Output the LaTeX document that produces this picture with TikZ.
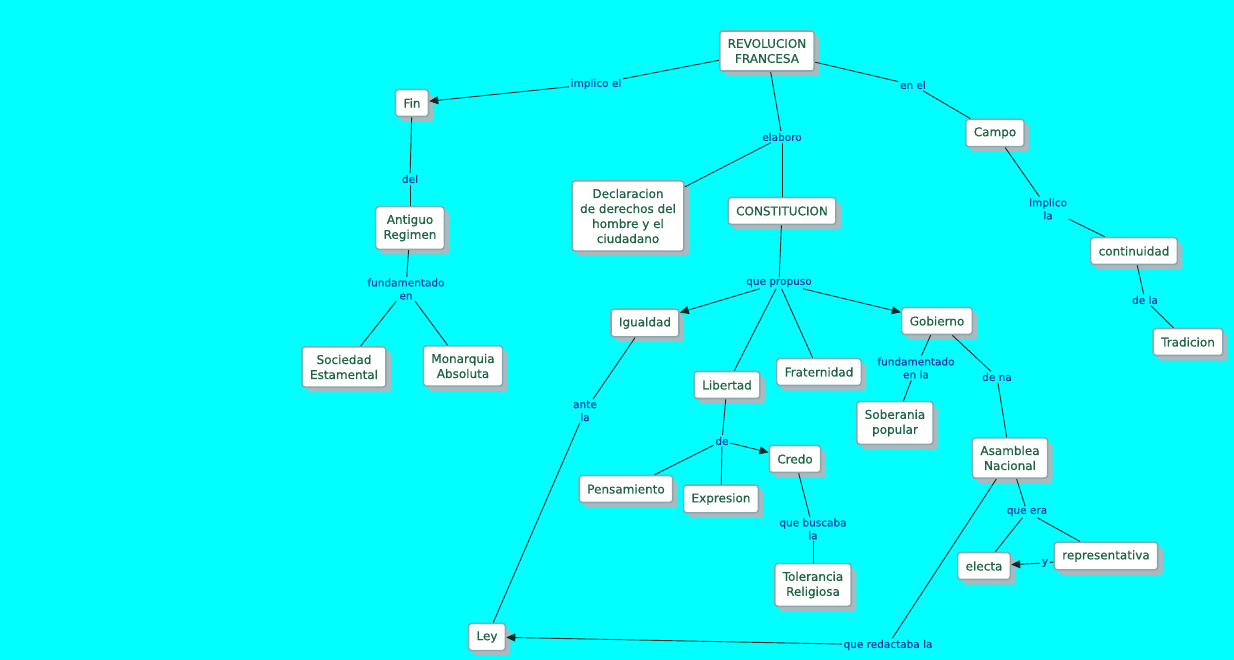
\documentclass[tikz,border=0pt]{standalone}
\usepackage{fontspec}
\setmainfont{DejaVu Sans}
\newfontfamily\conceptfont{DejaVu Sans}[BoldFont={DejaVu Sans}, BoldFeatures={FakeBold=0.6}]
\newfontfamily\linkfont{DejaVu Sans}[BoldFont={DejaVu Sans}, BoldFeatures={FakeBold=0.3}]
\usetikzlibrary{arrows.meta,shadows}
\usepackage{xcolor}
\definecolor{mapbg}{RGB}{0,255,255}
\definecolor{conceptborder}{RGB}{140,168,175}
\definecolor{concepttext}{RGB}{30,100,68}
\definecolor{linktext}{RGB}{15,60,165}
\definecolor{shadowgray}{RGB}{170,185,190}
\definecolor{linecolor}{RGB}{20,40,40}

\begin{document}
\begin{tikzpicture}[x=1pt, y=-1pt,
			concept/.style={rectangle, draw=conceptborder, fill=white, line width=1.6pt,
				rounded corners=3pt, inner xsep=8pt, inner ysep=8pt, minimum height=27pt,
				align=center, text=concepttext, font=\conceptfont\bfseries\fontsize{12}{15}\selectfont,
				drop shadow={shadow xshift=5pt, shadow yshift=-5pt, fill=shadowgray, opacity=1}},
			link/.style={inner sep=1.5pt, align=center, text=linktext, font=\linkfont\bfseries\fontsize{10.5}{13}\selectfont},
			conn/.style={draw=linecolor, line width=0.9pt},
			>={Triangle[length=9pt, width=8pt]}
			]
			\fill[mapbg] (0,0) rectangle (1234,660);
			\useasboundingbox (0,0) rectangle (1234,660);
			
			\node[concept] (Rev) at (767,51) {REVOLUCION\\FRANCESA};
			\node[concept] (Fin) at (412,103) {Fin};
			\node[concept] (Campo) at (995,133) {Campo};
			\node[concept] (Antiguo) at (410,228) {Antiguo\\Regimen};
			\node[concept] (Decl) at (628,216) {Declaracion\\de derechos del\\hombre y el\\ciudadano};
			\node[concept] (Const) at (782,211) {CONSTITUCION};
			\node[concept] (Cont) at (1134,251) {continuidad};
			\node[concept] (Trad) at (1188,342) {Tradicion};
			\node[concept] (Igual) at (645,323) {Igualdad};
			\node[concept] (Gob) at (937,321) {Gobierno};
			\node[concept] (Soc) at (344,367) {Sociedad\\Estamental};
			\node[concept] (Mon) at (463,366) {Monarquia\\Absoluta};
			\node[concept] (Frat) at (819,372) {Fraternidad};
			\node[concept] (Lib) at (727,385) {Libertad};
			\node[concept] (Sob) at (895,423) {Soberania\\popular};
			\node[concept] (Asam) at (1010,458) {Asamblea\\Nacional};
			\node[concept] (Credo) at (795,459) {Credo};
			\node[concept] (Pens) at (626,489) {Pensamiento};
			\node[concept] (Expr) at (721,499) {Expresion};
			\node[concept] (Repr) at (1106,556) {representativa};
			\node[concept] (Electa) at (984,566) {electa};
			\node[concept] (Tol) at (813,585) {Tolerancia\\Religiosa};
			\node[concept] (Ley) at (487,637) {Ley};
			
			\node[link] (ImplicoEl) at (596,84) {implico el};
			\node[link] (EnEl) at (913,85) {en el};
			\node[link] (Elaboro) at (782,137) {elaboro};
			\node[link] (Del) at (410,179) {del};
			\node[link] (ImplicoLa) at (1048,209) {Implico\\la};
			\node[link] (FundEn) at (406,289) {fundamentado\\en};
			\node[link] (QuePropuso) at (779,283) {que propuso};
			\node[link] (DeLa) at (1145,300) {de la};
			\node[link] (FundEnLa) at (916,368) {fundamentado\\en la};
			\node[link] (DeNa) at (997,377) {de na};
			\node[link] (AnteLa) at (585,411) {ante\\la};
			\node[link] (De) at (722,441) {de};
			\node[link] (QueBuscaba) at (813,529) {que buscaba\\la};
			\node[link] (QueEra) at (1027,512) {que era};
			\node[link] (Y) at (1045,563) {y};
			\node[link] (QueRedactaba) at (888,645) {que redactaba la};
			
			\draw[conn] (Rev) -- (ImplicoEl);
			\draw[conn, ->] (ImplicoEl) -- (Fin);
			\draw[conn] (Rev) -- (EnEl);
			\draw[conn] (EnEl) -- (Campo);
			\draw[conn] (Rev) -- (Elaboro);
			\draw[conn] (Elaboro) -- (Decl);
			\draw[conn] (Elaboro) -- (Const);
			
			\draw[conn] (Fin) -- (Del);
			\draw[conn] (Del) -- (Antiguo);
			\draw[conn] (Antiguo) -- (FundEn);
			\draw[conn] (FundEn) -- (Soc);
			\draw[conn] (FundEn) -- (Mon);
			
			\draw[conn] (Campo) -- (ImplicoLa);
			\draw[conn] (ImplicoLa) -- (Cont);
			\draw[conn] (Cont) -- (DeLa);
			\draw[conn] (DeLa) -- (Trad);
			
			\draw[conn] (Const) -- (QuePropuso);
			\draw[conn, ->] (QuePropuso) -- (Igual);
			\draw[conn, ->] (QuePropuso) -- (Gob);
			\draw[conn] (QuePropuso) -- (Lib);
			\draw[conn] (QuePropuso) -- (Frat);
			
			\draw[conn] (Gob) -- (FundEnLa);
			\draw[conn] (FundEnLa) -- (Sob);
			\draw[conn] (Gob) -- (DeNa);
			\draw[conn] (DeNa) -- (Asam);
			
			\draw[conn] (Igual) -- (AnteLa);
			\draw[conn] (AnteLa) -- (Ley);
			
			\draw[conn] (Lib) -- (De);
			\draw[conn] (De) -- (Pens);
			\draw[conn] (De) -- (Expr);
			\draw[conn, ->] (De) -- (Credo);
			\draw[conn] (Credo) -- (QueBuscaba);
			\draw[conn] (QueBuscaba) -- (Tol);
			
			\draw[conn] (Asam) -- (QueEra);
			\draw[conn] (QueEra) -- (Electa);
			\draw[conn] (QueEra) -- (Repr);
			\draw[conn] (Repr) -- (Y);
			\draw[conn, ->] (Y) -- (Electa);
			\draw[conn] (Asam) -- (QueRedactaba);
			\draw[conn, ->] (QueRedactaba) -- (Ley);
		\end{tikzpicture}
\end{document}
